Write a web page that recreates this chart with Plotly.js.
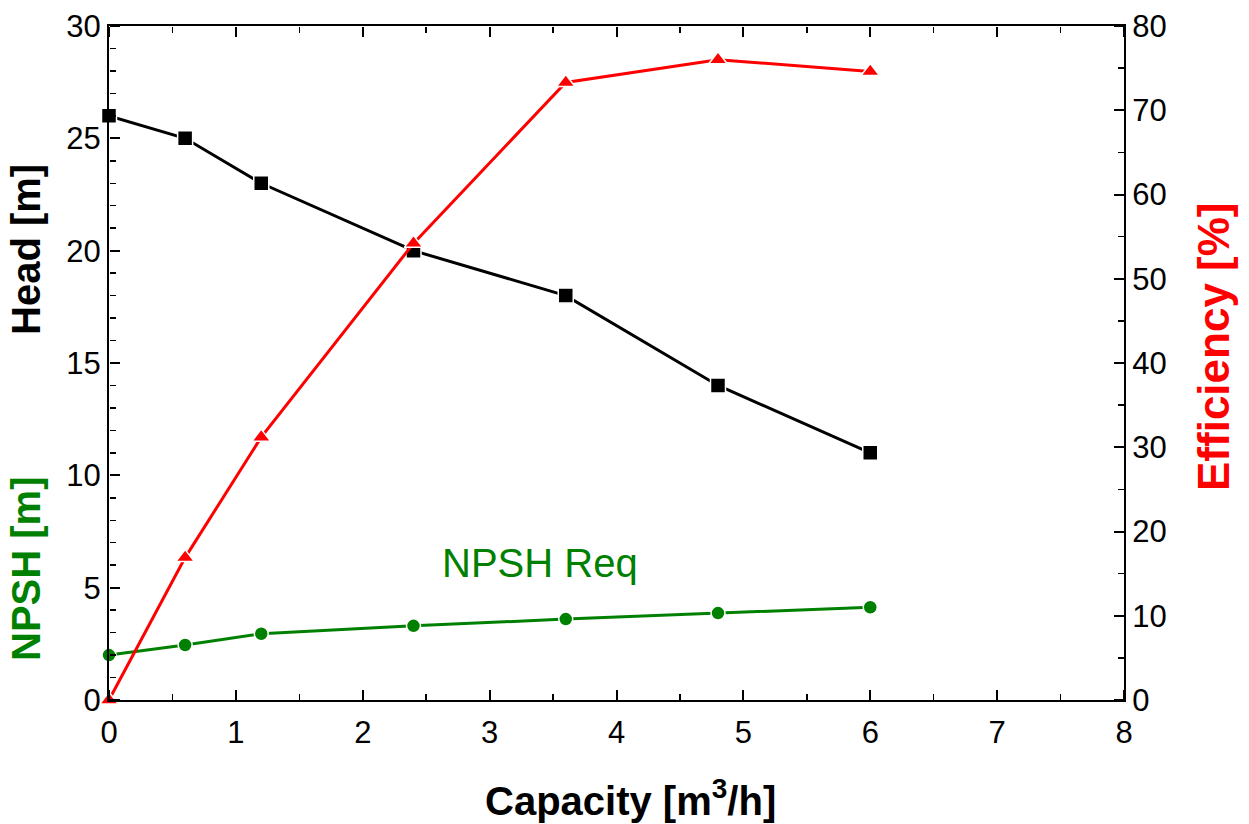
<!DOCTYPE html>
<html>
<head>
<meta charset="utf-8">
<script src="https://cdn.plot.ly/plotly-3.0.1.min.js"></script>
<style>html,body{margin:0;padding:0;background:#fff;}#chart{width:1249px;height:824px;}</style>
</head>
<body>
<div id="chart"></div>
<script>
const capacity = [0, 0.6, 1.2, 2.4, 3.6, 4.8, 6];
const head = [26, 25, 23, 20, 18, 14, 11];
const efficiency = [0, 16.9, 31.2, 54.2, 73.3, 76.0, 74.6];
const npsh = [2.0, 2.45, 2.95, 3.3, 3.6, 3.87, 4.13];

const FONT = 'Liberation Sans, Arial, sans-serif';
const mline = {color: '#ffffff', width: 1.5};

const traces = [
  {x: capacity, y: head, mode: 'lines+markers', xaxis: 'x', yaxis: 'y', cliponaxis: false,
   line: {color: '#000000', width: 3},
   marker: {symbol: 'square', size: 15, color: '#000000', line: mline}},
  {x: capacity, y: npsh, mode: 'lines+markers', xaxis: 'x', yaxis: 'y', cliponaxis: false,
   line: {color: '#008000', width: 3},
   marker: {symbol: 'circle', size: 14, color: '#008000', line: mline}},
  {x: capacity, y: efficiency, mode: 'lines+markers', xaxis: 'x', yaxis: 'y2', cliponaxis: false,
   line: {color: '#ff0000', width: 3},
   marker: {symbol: 'triangle-up', size: 16, color: '#ff0000', line: mline}},
  // empty helper traces so the tick-only frame axes are drawn
  {x: [], y: [], xaxis: 'x2', yaxis: 'y', mode: 'markers', hoverinfo: 'skip'},
  {x: [], y: [], xaxis: 'x3', yaxis: 'y', mode: 'markers', hoverinfo: 'skip'},
  {x: [], y: [], xaxis: 'x', yaxis: 'y3', mode: 'markers', hoverinfo: 'skip'},
  {x: [], y: [], xaxis: 'x', yaxis: 'y4', mode: 'markers', hoverinfo: 'skip'}
];

const base = {showgrid: false, zeroline: false, fixedrange: true};
function tickAxis(extra, minorDtick) {
  return Object.assign({}, base, {
    showline: false, showticklabels: false, anchor: 'free',
    ticks: 'outside', ticklen: 10, tickwidth: 2, tickcolor: '#000000',
    minor: {dtick: minorDtick, ticks: 'outside', ticklen: 6, tickwidth: 1.5, tickcolor: '#000000', showgrid: false}
  }, extra);
}

const layout = {
  width: 1249, height: 824,
  margin: {l: 109, r: 125, t: 26, b: 124},
  paper_bgcolor: '#ffffff', plot_bgcolor: '#ffffff',
  showlegend: false,
  font: {family: FONT, color: '#000000', size: 31},
  xaxis: Object.assign({}, base, {
    range: [0, 8], dtick: 1, tick0: 0, ticks: '', mirror: true,
    showline: true, linecolor: '#000000', linewidth: 2,
    ticklabelstandoff: 4,
    tickfont: {family: FONT, size: 31, color: '#000000'}
  }),
  yaxis: Object.assign({}, base, {
    range: [0, 30], dtick: 5, tick0: 0, ticks: '',
    showline: true, linecolor: '#000000', linewidth: 2,
    tickfont: {family: FONT, size: 31, color: '#000000'}
  }),
  yaxis2: Object.assign({}, base, {
    range: [0, 80], dtick: 10, tick0: 0, overlaying: 'y', side: 'right', ticks: '',
    showline: true, linecolor: '#000000', linewidth: 2,
    tickfont: {family: FONT, size: 31, color: '#000000'}
  }),
  // bottom frame ticks pointing up
  xaxis2: tickAxis({range: [0, 8], dtick: 1, tick0: 0, overlaying: 'x', side: 'top', position: 0}, 0.5),
  // top frame ticks pointing down
  xaxis3: tickAxis({range: [0, 8], dtick: 1, tick0: 0, overlaying: 'x', side: 'bottom', position: 1}, 0.5),
  // left frame ticks pointing right
  yaxis3: tickAxis({range: [0, 30], dtick: 5, tick0: 0, overlaying: 'y', side: 'right', position: 0}, 1),
  // right frame ticks pointing left
  yaxis4: tickAxis({range: [0, 80], dtick: 10, tick0: 0, overlaying: 'y', side: 'left', position: 1}, 5),
  annotations: [
    {text: '<b>Head [m]</b>', textangle: -90, xref: 'paper', yref: 'paper',
     x: (26 - 109) / 1015, y: (700 - 250) / 674, xanchor: 'center', yanchor: 'middle',
     showarrow: false, font: {family: FONT, size: 40, color: '#000000'}},
    {text: '<b>NPSH [m]</b>', textangle: -90, xref: 'paper', yref: 'paper',
     x: (26 - 109) / 1015, y: (700 - 569) / 674, xanchor: 'center', yanchor: 'middle',
     showarrow: false, font: {family: FONT, size: 40, color: '#008000'}},
    {text: '<b>Efficiency [%]</b>', textangle: -90, xref: 'paper', yref: 'paper',
     x: (1214 - 109) / 1015, y: (700 - 347) / 674, xanchor: 'center', yanchor: 'middle',
     showarrow: false, font: {family: FONT, size: 44, color: '#ff0000'}},
    {text: '<b>Capacity [m<sup>3</sup>/h]</b>', xref: 'paper', yref: 'paper',
     x: (630 - 109) / 1015, y: (700 - 798) / 674, xanchor: 'center', yanchor: 'middle',
     showarrow: false, font: {family: FONT, size: 40, color: '#000000'}},
    {text: 'NPSH Req', xref: 'x', yref: 'y', x: 3.4, y: 6.1,
     xanchor: 'center', yanchor: 'middle', showarrow: false,
     font: {family: FONT, size: 40, color: '#008000'}}
  ]
};

Plotly.newPlot('chart', traces, layout, {displayModeBar: false, staticPlot: true});
</script>
</body>
</html>
